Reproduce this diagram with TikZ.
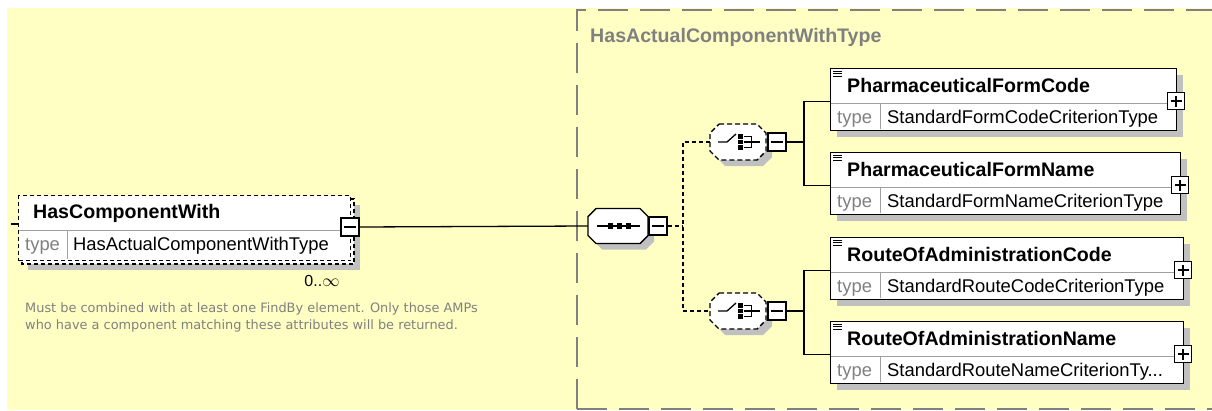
\documentclass[tikz,border=0pt]{standalone}
\usepackage{fontspec}
\setmainfont{Liberation Sans}
\newfontfamily\descfont{DejaVu Sans}
\definecolor{bgyellow}{RGB}{255,255,196}
\definecolor{shadowgray}{RGB}{192,192,192}
\definecolor{groupgray}{RGB}{128,128,128}
\definecolor{textgray}{RGB}{128,128,128}
\definecolor{divgray}{RGB}{160,160,160}
\newcommand\titlefont{\fontsize{19.6pt}{22pt}\selectfont\bfseries}
\newcommand\typefont{\fontsize{18.4pt}{21pt}\selectfont}
% octagon outline: cx, cy, half width, half height, chamfer, style
\newcommand\octo[6]{\draw[#6] (#1-#3+#5,#2-#4) -- (#1+#3-#5,#2-#4) -- (#1+#3,#2-#4+#5) -- (#1+#3,#2+#4-#5) -- (#1+#3-#5,#2+#4) -- (#1-#3+#5,#2+#4) -- (#1-#3,#2+#4-#5) -- (#1-#3,#2-#4+#5) -- cycle;}
% element box: name, left, top, right, title, type
\newcommand\elembox[6]{%
  \fill[shd] (#2+7,#3+7) rectangle (#4+7,#3+69);
  \node[bx,anchor=north west,minimum width={(#4-#2)*1pt},minimum height=62pt,inner sep=0pt] (#1) at (#2,#3) {};
  \draw[divgray,line width=0.9pt] (#2+0.7,#3+35) -- (#4-0.7,#3+35);
  \draw[divgray,line width=0.9pt] (#2+50,#3+35) -- (#2+50,#3+61.3);
  \foreach \k in {0,1,2} \draw[line width=0.9pt] (#2+3,#3+3.5+2.4*\k) -- (#2+12,#3+3.5+2.4*\k);
  \node[anchor=base west,font=\titlefont,inner sep=0pt] (#1t) at (#2+17,#3+24) {#5};
  \node[anchor=base west,font=\typefont,text=textgray,inner sep=0pt] (#1k) at (#2+7,#3+55) {type};
  \node[anchor=base west,font=\typefont,inner sep=0pt] (#1v) at (#2+57,#3+55) {#6};
  \node[pbox] (#1p) at (#4,#3+33) {};
  \draw[line width=1.2pt] ([xshift=-5.5pt]#1p.center) -- ([xshift=5.5pt]#1p.center);
  \draw[line width=1.2pt] ([yshift=-5.5pt]#1p.center) -- ([yshift=5.5pt]#1p.center);
}
% choice compositor: name, cy
\newcommand\choicenode[2]{%
  \octo{738+6}{#2+6}{28}{18}{9}{shd,draw=none}
  \octo{738}{#2}{28}{18}{9}{line width=1.4pt,dash pattern=on 5pt off 3pt,fill=white}
  \node[minimum width=56pt,minimum height=36pt,inner sep=0pt] (#1) at (738,#2) {};
  \draw[line width=1.3pt] (718,#2) -- (727,#2) -- (736,#2-8);
  \foreach \k in {-1,0,1} \fill (737.5,#2+5.2*\k-2.4) rectangle (742.5,#2+5.2*\k+2.4);
  \draw[line width=1.3pt] (744,#2-5.5) -- (751.5,#2-5.5) -- (751.5,#2+5.5) -- (744,#2+5.5);
  \draw[line width=1.3pt] (744,#2) -- (760,#2);
  \node[pbox,minimum size=18pt] (#1m) at (777,#2) {};
  \draw[line width=1.2pt] ([xshift=-6pt]#1m.center) -- ([xshift=6pt]#1m.center);
}
\begin{document}
\begin{tikzpicture}[x=1pt,y=-1pt,
  bx/.style={draw=black,line width=1.3pt,fill=white},
  shd/.style={fill=shadowgray},
  pbox/.style={draw=black,line width=1.2pt,fill=white,minimum size=17pt,inner sep=0pt},
  conn/.style={line width=1.3pt},
  dconn/.style={line width=1.3pt,dash pattern=on 4pt off 3pt},
  dashpat/.style={dash pattern=on 4pt off 3pt}]
\useasboundingbox (0,0) rectangle (1212,410);
\fill[bgyellow] (7,8) rectangle (1212,410);
% group box
\draw[groupgray,line width=2pt,dash pattern=on 30pt off 12pt] (577,409) -- (577,10) -- (1214,10);
\draw[groupgray,line width=2pt,dash pattern=on 30pt off 12pt] (577,409) -- (1214,409);
\node[anchor=base west,inner sep=0pt,font=\titlefont,text=groupgray] (gtitle) at (590,42) {HasActualComponentWithType};

% HasComponentWith
\fill[shd] (28,205) rectangle (360,270);
\draw[bx,dashpat] (22,199) rectangle (354,264);
\node[bx,dashpat,anchor=north west,minimum width=332pt,minimum height=65pt,inner sep=0pt] (hcw) at (18,195) {};
\draw[divgray,line width=0.9pt] (19,230) -- (349,230);
\draw[divgray,line width=0.9pt] (67,230) -- (67,259);
\node[anchor=base west,font=\titlefont,inner sep=0pt] (hcwt) at (33,218) {HasComponentWith};
\node[anchor=base west,font=\typefont,text=textgray,inner sep=0pt] (hcwk) at (25,250) {type};
\node[anchor=base west,font=\typefont,inner sep=0pt] (hcwv) at (73,250) {HasActualComponentWithType};
\node[pbox,minimum size=18pt] (hcwm) at (350,227) {};
\draw[line width=1.2pt] ([xshift=-6pt]hcwm.center) -- ([xshift=6pt]hcwm.center);
\coordinate (stub) at (11,224);
\draw[conn] (stub) -- (stub -| hcw.west);
\node[anchor=center,font=\fontsize{16pt}{18pt}\selectfont,inner sep=0pt] (mult) at (322,281) {0..$\infty$};
\node[anchor=base west,inner sep=0pt,font=\descfont\fontsize{12.9pt}{15pt}\selectfont,text=textgray] (desc1) at (25,312) {Must be combined with at least one FindBy element. Only those AMPs};
\node[anchor=base west,inner sep=0pt,font=\descfont\fontsize{12.9pt}{15pt}\selectfont,text=textgray] (desc2) at (25,329) {who have a component matching these attributes will be returned.};

% sequence
\octo{624}{232}{30}{17.5}{8}{shd,draw=none}
\octo{618}{226}{30}{17.5}{8}{line width=1.4pt,fill=white}
\node[minimum width=60pt,minimum height=35pt,inner sep=0pt] (seq) at (618,226) {};
\draw[line width=1.3pt] (597,226) -- (640,226);
\foreach \xx in {608,617,626} \fill (\xx,223.3) rectangle (\xx+5.4,228.7);
\node[pbox,minimum size=18pt] (seqm) at (658,226) {};
\draw[line width=1.2pt] ([xshift=-6pt]seqm.center) -- ([xshift=6pt]seqm.center);
\draw[conn] (hcwm.east) -- (seq.west);

% choices
\choicenode{ch1}{142}
\choicenode{ch2}{311}
\coordinate (jd) at (683,226);
\draw[dconn] (seqm.east) -- (jd);
\draw[dconn] (ch1.west) -| (jd) |- (ch2.west);

% elements
\elembox{e1}{830}{68}{1176}{PharmaceuticalFormCode}{StandardFormCodeCriterionType}
\elembox{e2}{830}{152}{1180}{PharmaceuticalFormName}{StandardFormNameCriterionType}
\elembox{e3}{830}{237}{1183}{RouteOfAdministrationCode}{StandardRouteCodeCriterionType}
\elembox{e4}{830}{321}{1183}{RouteOfAdministrationName}{StandardRouteNameCriterionTy...}

\coordinate (j1) at (804,142);
\coordinate (j2) at (804,311);
\draw[conn] (ch1m.east) -- (j1);
\draw[conn] ([yshift=-2pt]e1.west) -| (j1) |- ([yshift=-2pt]e2.west);
\draw[conn] (ch2m.east) -- (j2);
\draw[conn] ([yshift=-2pt]e3.west) -| (j2) |- ([yshift=-2pt]e4.west);
\end{tikzpicture}
\end{document}
